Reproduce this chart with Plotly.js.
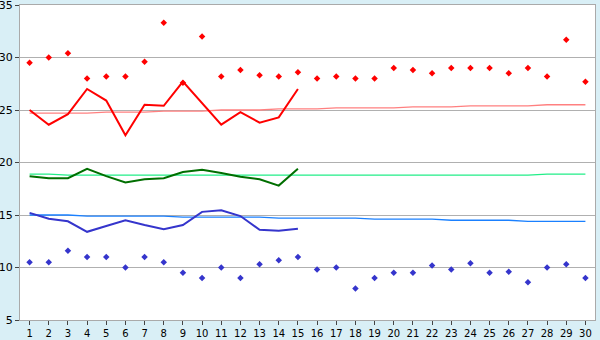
<!DOCTYPE html>
<html>
<head>
<meta charset="utf-8">
<script src="https://cdn.plot.ly/plotly-3.0.1.min.js"></script>
<style>html,body{margin:0;padding:0;background:#d9eff6;}#chart{width:600px;height:340px;}</style>
</head>
<body>
<div id="chart"></div>
<script>
const days = [1,2,3,4,5,6,7,8,9,10,11,12,13,14,15,16,17,18,19,20,21,22,23,24,25,26,27,28,29,30];
const dayLabels = days.map(String);
const yTicks = [5,10,15,20,25,30,35];
const maxTemp = [29.5,30.0,30.4,28.0,28.2,28.2,29.6,33.3,27.6,32.0,28.2,28.8,28.3,28.2,28.6,28.0,28.2,28.0,28.0,29.0,28.8,28.5,29.0,29.0,29.0,28.5,29.0,28.2,31.7,27.7];
const minTemp = [10.5,10.5,11.6,11.0,11.0,10.0,11.0,10.5,9.5,9.0,10.0,9.0,10.3,10.7,11.0,9.8,10.0,8.0,9.0,9.5,9.5,10.2,9.8,10.4,9.5,9.6,8.6,10.0,10.3,9.0];
const obsDays = [1,2,3,4,5,6,7,8,9,10,11,12,13,14,15];
const maxLine = [25.0,23.6,24.6,27.0,25.9,22.6,25.5,25.4,27.7,25.6,23.6,24.8,23.8,24.3,27.0];
const meanLine = [18.7,18.5,18.5,19.4,18.7,18.1,18.4,18.5,19.1,19.3,19.0,18.65,18.4,17.8,19.4];
const minLine = [15.2,14.65,14.4,13.4,13.95,14.5,14.05,13.65,14.05,15.3,15.45,14.9,13.6,13.5,13.7];
const normMax = [24.7,24.7,24.7,24.7,24.8,24.8,24.8,24.9,24.9,24.9,25.0,25.0,25.0,25.1,25.1,25.1,25.2,25.2,25.2,25.2,25.3,25.3,25.3,25.4,25.4,25.4,25.4,25.5,25.5,25.5];
const normMean = [18.9,18.9,18.8,18.8,18.8,18.8,18.8,18.8,18.8,18.8,18.8,18.8,18.8,18.8,18.8,18.8,18.8,18.8,18.8,18.8,18.8,18.8,18.8,18.8,18.8,18.8,18.8,18.9,18.9,18.9];
const normMin = [15.0,15.0,15.0,14.9,14.9,14.9,14.9,14.9,14.8,14.8,14.8,14.8,14.8,14.7,14.7,14.7,14.7,14.7,14.6,14.6,14.6,14.6,14.5,14.5,14.5,14.5,14.4,14.4,14.4,14.4];

const traces = [
  {x: days, y: normMax, mode: 'lines', line: {color: '#ff8080', width: 1.3}, hoverinfo: 'skip'},
  {x: days, y: normMean, mode: 'lines', line: {color: '#22ee88', width: 1.3}, hoverinfo: 'skip'},
  {x: days, y: normMin, mode: 'lines', line: {color: '#1a80ff', width: 1.3}, hoverinfo: 'skip'},
  {x: obsDays, y: maxLine, mode: 'lines', line: {color: '#ff0000', width: 2}, hoverinfo: 'skip'},
  {x: obsDays, y: meanLine, mode: 'lines', line: {color: '#006e00', width: 2}, hoverinfo: 'skip'},
  {x: obsDays, y: minLine, mode: 'lines', line: {color: '#3535cc', width: 2}, hoverinfo: 'skip'},
  {x: days, y: maxTemp, mode: 'markers', marker: {symbol: 'diamond', size: 5, color: '#ff0000'}, hoverinfo: 'skip'},
  {x: days, y: minTemp, mode: 'markers', marker: {symbol: 'diamond', size: 5, color: '#3535cc'}, hoverinfo: 'skip'}
];

const layout = {
  width: 600, height: 340,
  margin: {l: 20, r: 5, t: 5, b: 20, pad: 0},
  paper_bgcolor: '#d9eff6',
  plot_bgcolor: '#ffffff',
  showlegend: false,
  font: {family: 'DejaVu Sans, Verdana, sans-serif', size: 10, color: '#000000'},
  xaxis: {
    range: [0.5, 30.5], tickvals: days, ticktext: dayLabels,
    showgrid: false, zeroline: false,
    showline: true, mirror: true, linecolor: '#aaaaaa', linewidth: 1,
    ticks: 'outside', ticklen: 4, tickcolor: '#444444', tickfont: {size: 10}
  },
  yaxis: {
    range: [5, 35], tickvals: yTicks, ticklabeloverflow: 'allow',
    showgrid: true, gridcolor: '#b0b0b0', gridwidth: 1, zeroline: false,
    showline: true, mirror: true, linecolor: '#aaaaaa', linewidth: 1,
    ticks: 'outside', ticklen: 4, tickcolor: '#444444', tickfont: {size: 11}
  }
};

Plotly.newPlot('chart', traces, layout, {displayModeBar: false, staticPlot: true});
</script>
</body>
</html>
